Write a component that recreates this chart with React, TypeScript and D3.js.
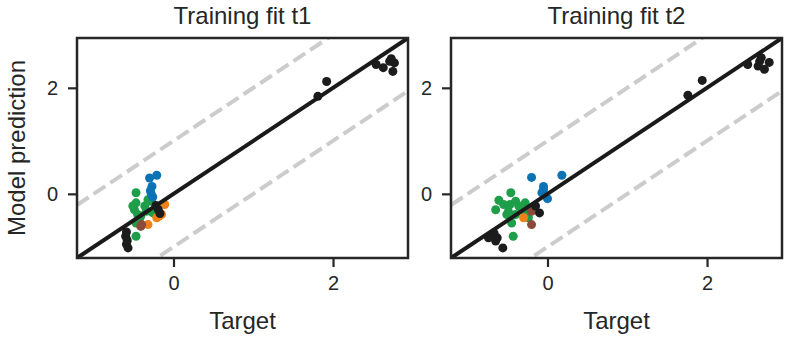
import React, { useEffect, useRef } from 'react';
import * as d3 from 'd3';

// [target, prediction] pairs
const t1Black = [[2.54, 2.44], [2.63, 2.38], [2.71, 2.50], [2.77, 2.47], [2.75, 2.31], [2.73, 2.55],
  [1.92, 2.12], [1.81, 1.84],
  [-0.59, -0.72], [-0.60, -0.80], [-0.58, -0.88], [-0.59, -0.95], [-0.57, -1.02],
  [-0.22, -0.22], [-0.19, -0.30], [-0.17, -0.37]];
const t1Blue = [[-0.30, 0.30], [-0.21, 0.35], [-0.27, 0.14], [-0.29, 0.06], [-0.28, 0.0], [-0.26, -0.06]];
const t1Green = [[-0.47, 0.02], [-0.47, -0.17], [-0.49, -0.30], [-0.45, -0.39], [-0.41, -0.42], [-0.47, -0.55],
  [-0.47, -0.80], [-0.32, -0.11], [-0.28, -0.14], [-0.36, -0.23], [-0.26, -0.36], [-0.34, -0.33],
  [-0.51, -0.23], [-0.41, -0.61], [-0.43, -0.49]];
const t1Orange = [[-0.32, -0.58], [-0.21, -0.45], [-0.15, -0.39], [-0.11, -0.20], [-0.18, -0.42]];
const t1Brown = [[-0.41, -0.61], [-0.40, -0.58]];

const t2Black = [[2.51, 2.44], [2.66, 2.50], [2.72, 2.35], [2.78, 2.48], [2.64, 2.41], [2.68, 2.57],
  [1.94, 2.14], [1.76, 1.86],
  [-0.72, -0.80], [-0.65, -0.89], [-0.67, -0.74], [-0.56, -1.02], [-0.63, -0.83], [-0.74, -0.83],
  [-0.15, -0.23], [-0.10, -0.36]];
const t2Blue = [[-0.20, 0.31], [0.18, 0.35], [-0.05, 0.14], [-0.07, 0.02], [0.0, -0.09], [-0.05, 0.08]];
const t2Green = [[-0.46, 0.02], [-0.61, -0.12], [-0.65, -0.30], [-0.55, -0.20], [-0.40, -0.14], [-0.36, -0.23],
  [-0.49, -0.33], [-0.28, -0.17], [-0.26, -0.33], [-0.40, -0.39], [-0.45, -0.55], [-0.43, -0.80],
  [-0.24, -0.45], [-0.32, -0.30], [-0.51, -0.39], [-0.47, -0.20]];
const t2Orange = [[-0.30, -0.45]];
const t2Brown = [[-0.20, -0.58], [-0.20, -0.33]];

const titles = ['Training fit t1', 'Training fit t2'];
const tickValues = [0, 2];
const limits = [-1.21, 2.94];
const bandOffsets = [-1, 1];

const FONT = '"Liberation Sans", Arial, Helvetica, sans-serif';
const INK = '#262626';

const panels = [
  { title: titles[0], left: 77, groups: [
    { pts: t1Green, color: '#1f9e4a' }, { pts: t1Orange, color: '#ef8118' },
    { pts: t1Brown, color: '#8c4b3a' }, { pts: t1Blue, color: '#0a72b5' }, { pts: t1Black, color: '#1c1c1c' }] },
  { title: titles[1], left: 451, groups: [
    { pts: t2Green, color: '#1f9e4a' }, { pts: t2Orange, color: '#ef8118' },
    { pts: t2Brown, color: '#8c4b3a' }, { pts: t2Blue, color: '#0a72b5' }, { pts: t2Black, color: '#1c1c1c' }] },
];

export default function App() {
  const ref = useRef<SVGSVGElement>(null);

  useEffect(() => {
    const width = 789, height = 338;
    const top = 38, pw = 331, ph = 220;
    const svg = d3.select(ref.current).attr('width', width).attr('height', height);
    svg.selectAll('*').remove();

    svg.append('defs').selectAll('clipPath')
      .data(panels).join('clipPath')
      .attr('id', (_, i) => `clip${i}`)
      .append('rect').attr('width', pw).attr('height', ph);

    const x = d3.scaleLinear().domain(limits).range([0, pw]);
    const y = d3.scaleLinear().domain(limits).range([ph, 0]);

    panels.forEach((p, i) => {
      const g = svg.append('g').attr('transform', `translate(${p.left},${top})`);
      const inner = g.append('g').attr('clip-path', `url(#clip${i})`);

      // +/- 1 band
      bandOffsets.forEach((o) => {
        inner.append('line')
          .attr('x1', x(limits[0])).attr('y1', y(limits[0] + o))
          .attr('x2', x(limits[1])).attr('y2', y(limits[1] + o))
          .attr('stroke', '#cccccc').attr('stroke-width', 4)
          .attr('stroke-dasharray', '14,6');
      });

      p.groups.forEach((grp) => {
        inner.append('g').selectAll('circle')
          .data(grp.pts).join('circle')
          .attr('cx', (d) => x(d[0]))
          .attr('cy', (d) => y(d[1]))
          .attr('r', 4.5)
          .attr('fill', grp.color);
      });

      // identity line
      inner.append('line')
        .attr('x1', x(limits[0])).attr('y1', y(limits[0]))
        .attr('x2', x(limits[1])).attr('y2', y(limits[1]))
        .attr('stroke', '#1a1a1a').attr('stroke-width', 4);

      const xAxis = g.append('g').attr('transform', `translate(0,${ph})`)
        .call(d3.axisBottom(x).tickValues(tickValues).tickSize(9).tickPadding(9).tickFormat(d3.format('d')));
      const yAxis = g.append('g')
        .call(d3.axisLeft(y).tickValues(tickValues).tickSize(9).tickPadding(10).tickFormat(d3.format('d')));
      [xAxis, yAxis].forEach((a) => {
        a.select('.domain').remove();
        a.selectAll('.tick line').style('stroke', INK).style('stroke-width', '2.2px');
        a.selectAll('.tick text').attr('font-family', FONT).style('font-size', '20px').attr('fill', INK);
      });

      g.append('rect').attr('width', pw).attr('height', ph)
        .attr('fill', 'none').attr('stroke', INK).attr('stroke-width', 2.5);

      g.append('text')
        .attr('x', pw / 2).attr('y', -14)
        .attr('text-anchor', 'middle')
        .attr('font-family', FONT).attr('font-size', 24).attr('fill', INK)
        .text(p.title);

      g.append('text')
        .attr('x', pw / 2).attr('y', ph + 71)
        .attr('text-anchor', 'middle')
        .attr('font-family', FONT).attr('font-size', 24).attr('fill', INK)
        .text('Target');
    });

    svg.append('text')
      .attr('transform', `translate(25,${top + ph / 2}) rotate(-90)`)
      .attr('text-anchor', 'middle')
      .attr('font-family', FONT).attr('font-size', 24).attr('fill', INK)
      .text('Model prediction');
  }, []);

  return <svg ref={ref} style={{ position: 'absolute', left: 0, top: 0, background: '#fff' }} />;
}
